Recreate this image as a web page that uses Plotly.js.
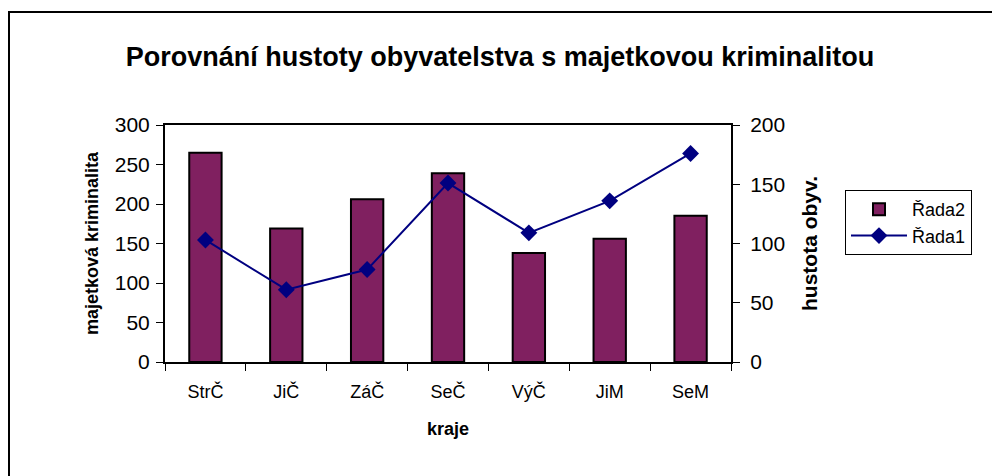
<!DOCTYPE html>
<html>
<head>
<meta charset="utf-8">
<script src="https://cdn.plot.ly/plotly-3.0.1.min.js"></script>
<style>
html,body{margin:0;padding:0;background:#fff;}
#wrap{position:relative;width:992px;height:476px;overflow:hidden;}
#chart{width:992px;height:476px;}
#frame{position:absolute;left:8px;top:11px;width:1000px;height:500px;border:2px solid #000;pointer-events:none;box-sizing:border-box;}
</style>
</head>
<body>
<div id="wrap"><div id="chart"></div><div id="frame"></div></div>
<script>
var categories = ["StrČ", "JiČ", "ZáČ", "SeČ", "VýČ", "JiM", "SeM"];
var rada2 = [265, 169, 206, 239, 138, 156, 185];
var rada1 = [103, 61, 78, 151, 109, 136, 176];
var leftTicks = [0, 50, 100, 150, 200, 250, 300];
var rightTicks = [0, 50, 100, 150, 200];

var font = "Liberation Sans, Arial, sans-serif";

var traces = [
  {
    type: "bar", name: "Řada2", x: categories, y: rada2,
    marker: {color: "#802060", line: {color: "#000", width: 2}},
    yaxis: "y"
  },
  {
    type: "scatter", mode: "lines+markers", name: "Řada1", x: categories, y: rada1,
    line: {color: "#000080", width: 2},
    marker: {symbol: "diamond", size: 13, color: "#000080"},
    yaxis: "y2"
  }
];

var layout = {
  width: 992, height: 476,
  margin: {l: 165, r: 261, t: 125, b: 114},
  paper_bgcolor: "#fff", plot_bgcolor: "#fff",
  font: {family: font, size: 18, color: "#000"},
  bargap: 0.6,
  showlegend: true,
  title: {
    text: "<b>Porovnání hustoty obyvatelstva s majetkovou kriminalitou</b>",
    font: {family: font, size: 27, color: "#000"},
    x: 500/992, xanchor: "center", xref: "container",
    y: 1 - 57/476, yanchor: "middle", yref: "container"
  },
  xaxis: {
    type: "category",
    showline: true, linecolor: "#000", linewidth: 2, mirror: true,
    ticks: "outside", tickson: "boundaries", ticklen: 7, tickcolor: "#000", tickwidth: 1,
    ticklabelstandoff: 12,
    showgrid: false, zeroline: false,
    tickfont: {family: font, size: 18},
    title: {text: "<b>kraje</b>", font: {family: font, size: 18}, standoff: 22}
  },
  yaxis: {
    range: [0, 300], tickvals: leftTicks,
    showline: true, linecolor: "#000", linewidth: 2,
    ticks: "outside", ticklen: 7, tickcolor: "#000", tickwidth: 1,
    ticklabelstandoff: 2,
    showgrid: false, zeroline: false,
    tickfont: {family: font, size: 21},
    title: {text: "<b>majetková kriminalita</b>", font: {family: font, size: 18}, standoff: 11}
  },
  yaxis2: {
    range: [0, 200], tickvals: rightTicks,
    overlaying: "y", side: "right",
    showline: true, linecolor: "#000", linewidth: 2,
    ticks: "outside", ticklen: 7, tickcolor: "#000", tickwidth: 1,
    ticklabelstandoff: 6,
    showgrid: false, zeroline: false,
    tickfont: {family: font, size: 21},
    title: {text: "<b>hustota obyv.</b>", font: {family: font, size: 21}, standoff: 18}
  },
  legend: {
    x: (845 - 165) / 566, y: (362 - 190) / 237, xanchor: "left", yanchor: "top",
    bordercolor: "#000", borderwidth: 1, bgcolor: "#fff",
    font: {family: font, size: 18},
    itemwidth: 56,
    traceorder: "normal", tracegroupgap: 0
  }
};

Plotly.newPlot("chart", traces, layout, {displayModeBar: false, staticPlot: true});
</script>
</body>
</html>
